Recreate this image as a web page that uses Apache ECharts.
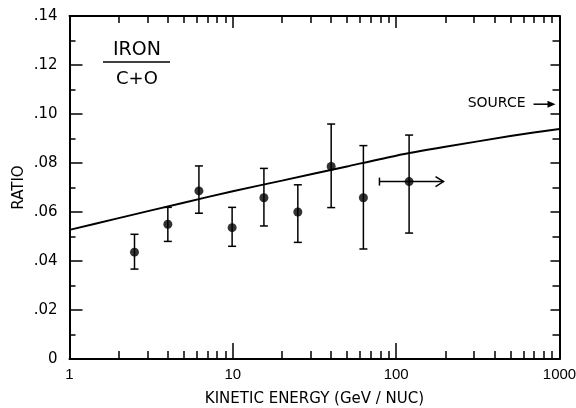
<!DOCTYPE html>
<html>
<head>
<meta charset="utf-8">
<script src="https://cdn.jsdelivr.net/npm/echarts@6/dist/echarts.min.js"></script>
<style>
html,body{margin:0;padding:0;background:#fff;}
#c{width:576px;height:408px;}
</style>
</head>
<body>
<div id="c"></div>
<script>
// ---- data ----
var energy   = [2.5, 4.0, 6.2, 9.9, 15.5, 25, 40, 63, 120];
var ratio    = [0.0436, 0.0550, 0.0686, 0.0536, 0.0658, 0.0600, 0.0786, 0.0658, 0.0724];
var errHigh  = [0.0509, 0.0619, 0.0788, 0.0619, 0.0778, 0.0711, 0.0959, 0.0871, 0.0914];
var errLow   = [0.0367, 0.0480, 0.0595, 0.0460, 0.0543, 0.0476, 0.0618, 0.0449, 0.0514];
var limitFrom = 79, limitTo = 195, limitRatio = 0.0724;
var curveE   = [1, 2, 5, 10, 20, 50, 100, 200, 500, 1000];
var curveR   = [0.0527, 0.0575, 0.0638, 0.0685, 0.0728, 0.0786, 0.0830, 0.0866, 0.0910, 0.0939];
var xMajor   = [1, 10, 100, 1000];
var xMinor   = [2,3,4,5,6,7,8,9,20,30,40,50,60,70,80,90,200,300,400,500,600,700,800,900];
var sourceLabel = 'SOURCE', sourceRatio = 0.104;

var FONT = "'DejaVu Sans',sans-serif";
var chart = echarts.init(document.getElementById('c'), null, {renderer:'canvas'});

function xAxisDef(pos, ticks, len, showLine, showLabel, name) {
  return {
    type: 'log', logBase: 10, min: 1, max: 1000, position: pos,
    name: name || '', nameLocation: 'middle', nameGap: 33, nameMoveOverlap: false,
    nameTextStyle: {fontFamily: FONT, fontSize: 15, color: '#000'},
    axisLine: {show: showLine, onZero: false, lineStyle: {color: '#000', width: 2}},
    axisTick: {show: true, inside: true, length: len, customValues: ticks, lineStyle: {color: '#000', width: 1.5}},
    axisLabel: {show: showLabel, customValues: xMajor, margin: 8, fontFamily: "'Liberation Sans',sans-serif", fontSize: 15, color: '#000',
      formatter: function (v) { return String(Math.round(v)); }},
    splitLine: {show: false}, minorTick: {show: false}, minorSplitLine: {show: false}
  };
}
function yAxisDef(pos, len, minorLen, showLabel, name) {
  return {
    type: 'value', min: 0, max: 0.14, interval: 0.02, position: pos,
    name: name || '', nameLocation: 'middle', nameGap: 43, nameRotate: 90, nameMoveOverlap: false,
    nameTextStyle: {fontFamily: FONT, fontSize: 15, color: '#000'},
    axisLine: {show: true, onZero: false, lineStyle: {color: '#000', width: 2}},
    axisTick: {show: true, inside: true, length: len, lineStyle: {color: '#000', width: 1.5}},
    minorTick: {show: true, splitNumber: 2, length: minorLen, lineStyle: {color: '#000', width: 1.5}},
    axisLabel: {show: showLabel, margin: 12, fontFamily: FONT, fontSize: 15, color: '#000',
      formatter: function (v) { if (v === 0) return '0'; var s = String(Math.round(v * 100)); if (s.length < 2) s = '0' + s; return '.' + s; }},
    splitLine: {show: false}
  };
}

var pts = energy.map(function (e, i) { return [e, ratio[i]]; });
var bars = energy.map(function (e, i) { return [e, errLow[i], errHigh[i]]; });
var curve = curveE.map(function (e, i) { return [e, curveR[i]]; });

var option = {
  animation: false,
  backgroundColor: '#fff',
  grid: {left: 69.5, right: 16.5, top: 16, bottom: 49, containLabel: false, outerBoundsMode: 'none'},
  xAxis: [
    xAxisDef('bottom', xMajor, 16, true, true, 'KINETIC ENERGY (GeV / NUC)'),
    xAxisDef('bottom', xMinor, 8, false, false),
    xAxisDef('top', xMajor, 12, true, false),
    xAxisDef('top', xMinor, 7, false, false)
  ],
  yAxis: [
    yAxisDef('left', 13, 6, true, 'RATIO'),
    yAxisDef('right', 9, 7, false)
  ],
  series: [
    {
      type: 'line', data: curve, smooth: 0.2, showSymbol: false, symbol: 'none',
      lineStyle: {color: '#000', width: 2}, xAxisIndex: 0, yAxisIndex: 0, z: 2
    },
    {
      type: 'custom', xAxisIndex: 0, yAxisIndex: 0, data: bars, z: 3,
      renderItem: function (params, api) {
        var lo = api.coord([api.value(0), api.value(1)]);
        var hi = api.coord([api.value(0), api.value(2)]);
        var w = 4;
        var st = {stroke: '#000', lineWidth: 1.5};
        return {type: 'group', children: [
          {type: 'line', shape: {x1: hi[0], y1: hi[1], x2: lo[0], y2: lo[1]}, style: st},
          {type: 'line', shape: {x1: hi[0] - w, y1: hi[1], x2: hi[0] + w, y2: hi[1]}, style: st},
          {type: 'line', shape: {x1: lo[0] - w, y1: lo[1], x2: lo[0] + w, y2: lo[1]}, style: st}
        ]};
      }
    },
    {
      type: 'custom', xAxisIndex: 0, yAxisIndex: 0, data: [[limitFrom, limitTo, limitRatio]], z: 3,
      renderItem: function (params, api) {
        var a = api.coord([api.value(0), api.value(2)]);
        var b = api.coord([api.value(1), api.value(2)]);
        var st = {stroke: '#000', lineWidth: 1.5, fill: 'none'};
        return {type: 'group', children: [
          {type: 'line', shape: {x1: a[0], y1: a[1], x2: b[0], y2: b[1]}, style: st},
          {type: 'line', shape: {x1: a[0], y1: a[1] - 4, x2: a[0], y2: a[1] + 4}, style: st},
          {type: 'polyline', shape: {points: [[b[0] - 8, b[1] - 5], [b[0], b[1]], [b[0] - 8, b[1] + 5]]}, style: st}
        ]};
      }
    },
    {
      type: 'custom', xAxisIndex: 0, yAxisIndex: 0, data: [[1000, sourceRatio]], z: 3,
      renderItem: function (params, api) {
        var p = api.coord([api.value(0), api.value(1)]);
        var tipX = p[0] - 4, y = p[1];
        return {type: 'group', children: [
          {type: 'line', shape: {x1: tipX - 22, y1: y, x2: tipX - 6, y2: y}, style: {stroke: '#000', lineWidth: 1.5}},
          {type: 'polygon', shape: {points: [[tipX - 8, y - 3.5], [tipX, y], [tipX - 8, y + 3.5]]}, style: {fill: '#000'}},
          {type: 'text', x: tipX - 30, y: y - 1, style: {text: sourceLabel, fontFamily: FONT, fontSize: 14, fill: '#000', align: 'right', verticalAlign: 'middle'}}
        ]};
      }
    },
    {
      type: 'scatter', data: pts, symbol: 'circle', symbolSize: 9,
      itemStyle: {color: '#000'}, xAxisIndex: 0, yAxisIndex: 0, z: 4
    }
  ],
  graphic: [
    {type: 'text', left: 113, top: 41, style: {text: 'IRON', fontFamily: FONT, fontSize: 19, fill: '#000'}},
    {type: 'line', shape: {x1: 103, y1: 62, x2: 170, y2: 62}, style: {stroke: '#000', lineWidth: 1.5}},
    {type: 'text', left: 116, top: 70, style: {text: 'C+O', fontFamily: FONT, fontSize: 18, fill: '#000'}}
  ]
};
chart.setOption(option);
</script>
</body>
</html>
